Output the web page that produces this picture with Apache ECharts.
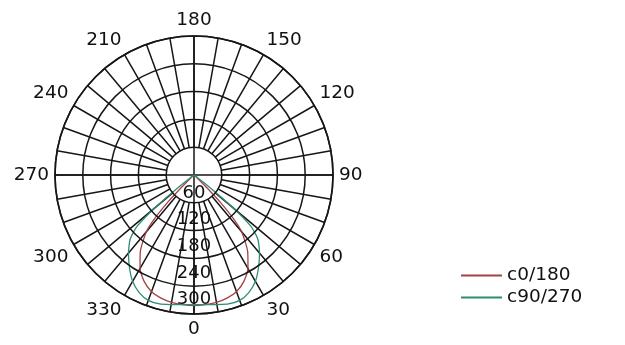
<!DOCTYPE html>
<html>
<head>
<meta charset="utf-8">
<script src="https://cdn.jsdelivr.net/npm/echarts@6/dist/echarts.min.js"></script>
<style>
html,body{margin:0;padding:0;background:#fff;}
#chart{width:625px;height:345px;}
</style>
</head>
<body>
<div id="chart"></div>
<script>
// gamma angles (degrees from nadir), mirrored on both sides
var gammaAngles = [0, 5, 10, 15, 20, 25, 30, 35, 40, 42, 44, 45, 46, 48, 50, 52, 54, 55, 60, 70, 80, 90];
var c0_180  = [282, 281, 279, 275, 268, 254, 233, 202, 160, 130, 80, 45, 15, 2, 0, 0, 0, 0, 0, 0, 0, 0];
var c90_270 = [280, 281, 284, 288, 288, 280, 265, 243, 220, 210, 200, 194, 186, 165, 110, 40, 5, 0, 0, 0, 0, 0];
var radialTicks = [60, 120, 180, 240, 300];
var seriesNames = ['c0/180', 'c90/270'];

function buildCurve(values) {
  var right = [];
  for (var j = 0; j < gammaAngles.length; j++) right.push([values[j], gammaAngles[j]]);
  var left = [];
  for (var k = gammaAngles.length - 1; k >= 1; k--) left.push([values[k], 360 - gammaAngles[k]]);
  return left.concat(right);
}

var FONT = 'DejaVu Sans';
var gridColor = '#161616';
var rich = {};
var lift = [0, 2, 3, 4, 6];
radialTicks.forEach(function (t, i) {
  rich['r' + i] = { fontFamily: FONT, fontSize: 18, color: '#111', padding: [0, 0, lift[i], 0] };
});
var chart = echarts.init(document.getElementById('chart'));
var option = {
  backgroundColor: '#ffffff',
  animation: false,
  polar: [
    { center: [194, 175], radius: [0, 139] },
    { center: [194, 175], radius: [27.8, 139] }
  ],
  angleAxis: [
    {
      polarIndex: 0, type: 'value', min: 0, max: 360, interval: 90,
      startAngle: 270, clockwise: false,
      axisLine: { show: true, lineStyle: { color: gridColor, width: 1.6 } },
      axisTick: { show: false },
      axisLabel: { show: false },
      splitLine: { show: true, lineStyle: { color: gridColor, width: 1.5 } }
    },
    {
      polarIndex: 1, type: 'value', min: 0, max: 360, interval: 10,
      startAngle: 270, clockwise: false,
      axisLine: { show: false },
      axisTick: { show: false },
      axisLabel: {
        show: true, margin: 6, color: '#111', fontFamily: FONT, fontSize: 18.5,
        formatter: function (v) { return (v % 30 === 0 && v < 360) ? String(v) : ''; }
      },
      splitLine: { show: true, lineStyle: { color: gridColor, width: 1.5 } }
    }
  ],
  radiusAxis: [
    {
      polarIndex: 0, type: 'value', min: 0, max: 300, interval: 60,
      axisLine: { show: false },
      axisTick: { show: false },
      axisLabel: {
        show: true, margin: 0, color: '#111', fontFamily: FONT, fontSize: 18,
        align: 'center', verticalAlign: 'bottom', rich: rich,
        formatter: function (v) {
          var i = radialTicks.indexOf(v);
          return i >= 0 ? '{r' + i + '|' + v + '}' : '';
        }
      },
      splitLine: { show: true, lineStyle: { color: gridColor, width: 1.5 } },
      z: 10
    },
    {
      polarIndex: 1, type: 'value', min: 60, max: 300, show: false,
      axisLine: { show: false }, axisTick: { show: false }, axisLabel: { show: false },
      splitLine: { show: false }
    }
  ],
  legend: {
    orient: 'vertical', left: 456, top: 261, itemWidth: 41, itemHeight: 2, itemGap: 3,
    icon: 'rect',
    textStyle: { fontFamily: FONT, fontSize: 18.5, color: '#111', padding: [0, 0, 0, 0] },
    data: seriesNames
  },
  series: [
    {
      name: seriesNames[0], type: 'line', coordinateSystem: 'polar', polarIndex: 0,
      data: buildCurve(c0_180), symbol: 'none', smooth: 0.2,
      lineStyle: { color: '#a04444', width: 1.3 }, itemStyle: { color: '#a04444' }
    },
    {
      name: seriesNames[1], type: 'line', coordinateSystem: 'polar', polarIndex: 0,
      data: buildCurve(c90_270), symbol: 'none', smooth: 0.2,
      lineStyle: { color: '#2f8c72', width: 1.3 }, itemStyle: { color: '#2f8c72' }
    }
  ]
};
chart.setOption(option);
</script>
</body>
</html>
